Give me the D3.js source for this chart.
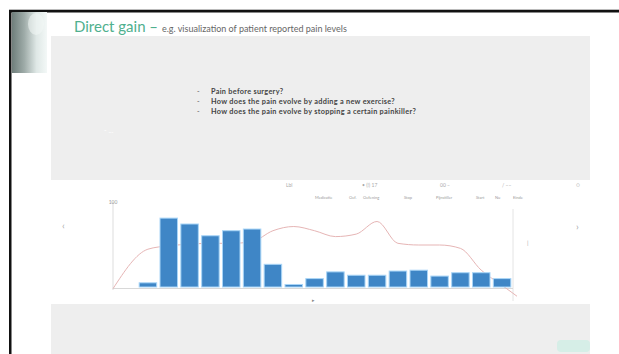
<!DOCTYPE html>
<html>
<head>
<meta charset="utf-8">
<script src="https://cdn.jsdelivr.net/npm/d3@7"></script>
<style>
    body { margin: 0; background: #fff; }
    svg { display: block; font-family: Lato, "Open Sans", sans-serif; }
</style>
</head>
<body>
<div id="chart"></div>
<script>
// slide texts
var titleMain = "Direct gain",
    titleSub = "e.g. visualization of patient reported pain levels";
var questions = [
    "Pain before surgery?",
    "How does the pain evolve by adding a new exercise?",
    "How does the pain evolve by stopping a certain painkiller?"
];

// chart data (one bar per period, line = pain score)
var periods = d3.range(1, 19);
var barValues = [5, 82, 75, 61, 67, 69, 27, 3, 10, 18, 14, 14, 19, 20, 13, 17, 17, 10];
var lineValues = [45, 49, 51, 52, 52, 54, 67, 72, 67, 60, 63, 78, 52, 50, 50, 46, 20, 2];
var lineStart = -2, lineEnd = -11;
var yTicks = [100];
var headerLabels = ["Lbl", "\u2022 (!) 17", "00 \u2013", "/ \u2013\u2013"];
var eventLabels = ["Medicatie", "Oef.", "Oefening", "Stop", "Pijnstiller", "Start", "Nu", "Einde"];

(function () {
    var width = 619,
        height = 354;

    var svg = d3.select("#chart")
        .append("svg")
        .attr("width", width)
        .attr("height", height);

    var defs = svg.append("defs");
    var grad = defs.append("linearGradient")
        .attr("id", "photo")
        .attr("x1", 0).attr("x2", 1).attr("y1", 0).attr("y2", 0);
    grad.append("stop").attr("offset", "0%").attr("stop-color", "#6f7e7b");
    grad.append("stop").attr("offset", "35%").attr("stop-color", "#9eaba8");
    grad.append("stop").attr("offset", "70%").attr("stop-color", "#dfe8e6");
    grad.append("stop").attr("offset", "100%").attr("stop-color", "#f3f8f7");

    // slide frame
    svg.append("rect").attr("x", 9).attr("y", 9).attr("width", 610).attr("height", 1).attr("fill", "#bbb");
    svg.append("rect").attr("x", 9).attr("y", 10).attr("width", 610).attr("height", 2.5).attr("fill", "#111");
    svg.append("rect").attr("x", 9).attr("y", 10).attr("width", 2.5).attr("height", 344).attr("fill", "#111");

    // blurred picture in the corner
    svg.append("rect")
        .attr("x", 12).attr("y", 12).attr("width", 35).attr("height", 61)
        .attr("fill", "url(#photo)");
    svg.append("ellipse")
        .attr("cx", 36).attr("cy", 24).attr("rx", 8).attr("ry", 11)
        .attr("fill", "#f2f7f6").attr("opacity", 0.55);

    // grey panels
    svg.append("rect").attr("x", 51).attr("y", 36).attr("width", 539).attr("height", 144).attr("fill", "#eeeeee");
    svg.append("rect").attr("x", 51).attr("y", 304).attr("width", 539).attr("height", 50).attr("fill", "#eeeeee");
    svg.append("rect").attr("x", 557).attr("y", 340).attr("width", 33).attr("height", 12).attr("rx", 4)
        .attr("fill", "#d6eee7");

    // title
    var title = svg.append("text")
        .attr("x", 74)
        .attr("y", 32);
    title.append("tspan")
        .attr("font-size", 15)
        .attr("fill", "#4fb08e")
        .text(titleMain + " \u2013 ");
    title.append("tspan")
        .attr("font-size", 9)
        .attr("fill", "#666")
        .text(titleSub);

    // questions
    var q = svg.append("g")
        .selectAll("g")
        .data(questions)
        .enter().append("g")
        .attr("transform", function (d, i) {
            return "translate(0," + (93.5 + i * 10) + ")";
        });
    q.append("text")
        .attr("x", 197)
        .attr("font-size", 7)
        .attr("fill", "#555")
        .text("-");
    q.append("text")
        .attr("x", 211)
        .attr("font-size", 7.3)
        .attr("font-weight", 700)
        .attr("letter-spacing", 0.3)
        .attr("fill", "#444")
        .text(function (d) { return d; });

    svg.append("text").attr("x", 104).attr("y", 133).attr("font-size", 7).attr("fill", "#fff").text("-   ...");

    // chart
    var left = 113, right = 513, top = 203, base = 287;

    var x = d3.scaleBand()
        .domain(periods)
        .range([137.5, 512.5])
        .paddingInner(0.16)
        .paddingOuter(0.08);

    var y = d3.scaleLinear()
        .domain([0, 100])
        .range([base, top]);

    var chart = svg.append("g");

    // axes
    chart.append("line")
        .attr("x1", left).attr("x2", left)
        .attr("y1", y(100) - 1).attr("y2", base + 3)
        .attr("stroke", "#ddd");
    chart.append("line")
        .attr("x1", right).attr("x2", right)
        .attr("y1", y(100) + 6).attr("y2", base + 14)
        .attr("stroke", "#e4e4e4");
    chart.append("line")
        .attr("x1", left).attr("x2", right)
        .attr("y1", base + 1.5).attr("y2", base + 1.5)
        .attr("stroke", "#d8d8d8");

    chart.selectAll(".ytick")
        .data(yTicks)
        .enter().append("text")
        .attr("class", "ytick")
        .attr("x", left)
        .attr("y", function (d) { return y(d) + 1; })
        .attr("text-anchor", "middle")
        .attr("font-size", 5)
        .attr("fill", "#999")
        .text(function (d) { return d; });

    var line = d3.line()
        .x(function (d) { return d.x; })
        .y(function (d) { return y(d.v); })
        .curve(d3.curveMonotoneX);

    var linePts = [{x: left, v: lineStart}].concat(lineValues.map(function (v, i) {
        return {x: x(periods[i]) + x.bandwidth() / 2, v: v};
    })).concat([{x: right + 4, v: lineEnd}]);

    chart.append("path")
        .datum(linePts)
        .attr("fill", "none")
        .attr("stroke", "#e6b5b5")
        .attr("stroke-width", 1)
        .attr("d", line);

    chart.selectAll(".bar")
        .data(barValues)
        .enter().append("rect")
        .attr("class", "bar")
        .attr("x", function (d, i) { return x(periods[i]); })
        .attr("y", function (d) { return y(d); })
        .attr("width", x.bandwidth())
        .attr("height", function (d) { return base - y(d); })
        .attr("fill", "#3f86c6")
        .attr("stroke", "#a9d5f7")
        .attr("stroke-width", 1);

    // header labels above the plot
    chart.selectAll(".hdr")
        .data(headerLabels)
        .enter().append("text")
        .attr("class", "hdr")
        .attr("x", function (d, i) { return [286, 362, 440, 502][i]; })
        .attr("y", 187)
        .attr("font-size", 5)
        .attr("fill", "#aaa")
        .text(function (d) { return d; });

    chart.selectAll(".evt")
        .data(eventLabels)
        .enter().append("text")
        .attr("class", "evt")
        .attr("x", function (d, i) { return [315, 349, 363, 404, 436, 476, 495, 513][i]; })
        .attr("y", 199)
        .attr("font-size", 4)
        .attr("fill", "#999")
        .text(function (d) { return d; });

    // carousel arrows
    svg.append("text").attr("x", 62).attr("y", 229).attr("font-size", 10).attr("fill", "#aaa").text("\u2039");
    svg.append("text").attr("x", 576).attr("y", 230).attr("font-size", 10).attr("fill", "#aaa").text("\u203a");
    svg.append("text").attr("x", 576).attr("y", 187).attr("font-size", 6).attr("fill", "#bbb").text("\u25cb");
    svg.append("text").attr("x", 527).attr("y", 245).attr("font-size", 6).attr("fill", "#aaa").text("|");
    svg.append("text").attr("x", 312).attr("y", 302).attr("font-size", 5).attr("fill", "#888").text("\u25b8");
})();
</script>
</body>
</html>
